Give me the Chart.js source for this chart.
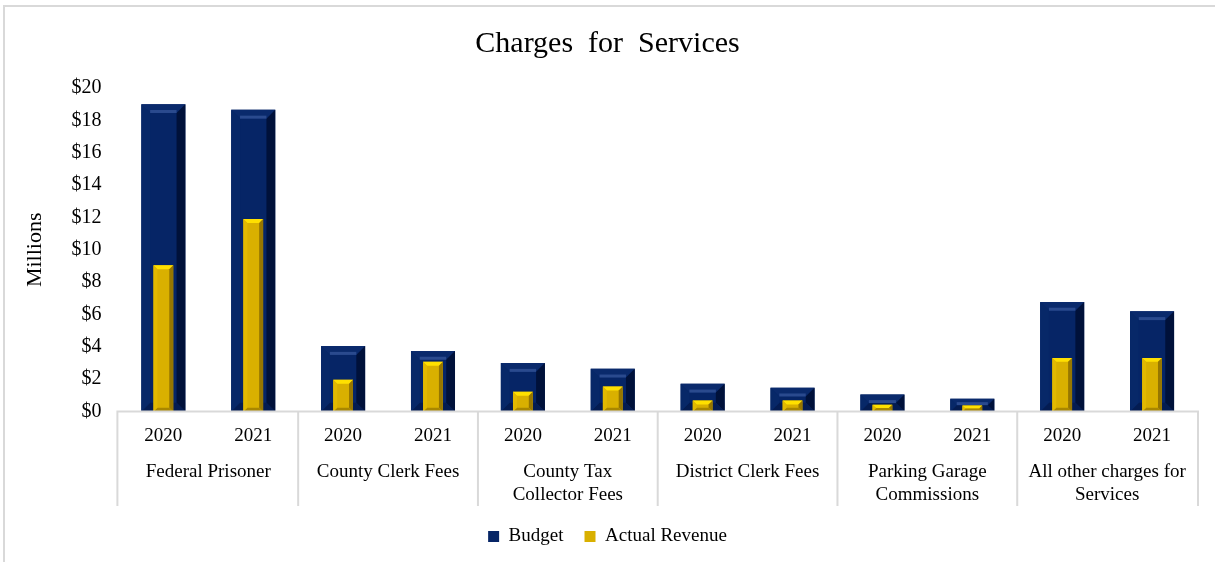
<!DOCTYPE html>
<html>
<head>
<meta charset="utf-8">
<script src="https://cdn.jsdelivr.net/npm/chart.js@4"></script>
<style>
  html, body { margin: 0; padding: 0; background: #fff; }
  #wrap { position: absolute; left: 0; top: 0; width: 1215px; height: 562px; }
  #frame { position: absolute; left: 3px; top: 5px; width: 1230px; height: 580px;
           border-left: 2px solid #d9d9d9; border-top: 2px solid #d9d9d9; }
</style>
</head>
<body>
<div id="wrap">
  <div id="frame"></div>
  <canvas id="servicesChart" width="1215" height="562"></canvas>
</div>
<script>
// --- data (millions of dollars) ---
const groups = ['Federal Prisoner', 'County Clerk Fees', ['County Tax', 'Collector Fees'], 'District Clerk Fees',
  ['Parking Garage', 'Commissions'], ['All other charges for', 'Services']];
const years = ['2020', '2021'];
const budget = [19.0, 18.65, 4.05, 3.75, 3.0, 2.65, 1.72, 1.48, 1.05, 0.8, 6.78, 6.2];
const actual = [9.05, 11.9, 1.97, 3.08, 1.23, 1.55, 0.68, 0.68, 0.43, 0.37, 3.32, 3.32];
const yTicks = [0, 2, 4, 6, 8, 10, 12, 14, 16, 18, 20];

const yearLabels = groups.flatMap(() => years);
const FONT = "'Liberation Serif', 'Times New Roman', serif";
const LINE = '#d9d9d9';

// bevelled look on each bar, using the bar elements' own geometry
const bevelPlugin = {
  id: 'bevel',
  afterDatasetDraw(chart, args) {
    const ds = chart.data.datasets[args.index];
    const c = ds.bevel;
    if (!c) return;
    const ctx = chart.ctx;
    ctx.save();
    args.meta.data.forEach(el => {
      const p = el.getProps(['x', 'y', 'base', 'width'], true);
      const l = p.x - p.width / 2, r = p.x + p.width / 2;
      const t = Math.min(p.y, p.base), btm = Math.max(p.y, p.base);
      const b = Math.min(p.width * 0.2, (btm - t) / 2);
      const poly = (pts, col) => {
        ctx.beginPath();
        ctx.moveTo(pts[0][0], pts[0][1]);
        pts.slice(1).forEach(q => ctx.lineTo(q[0], q[1]));
        ctx.closePath();
        ctx.fillStyle = col;
        ctx.fill();
      };
      poly([[l, t], [r, t], [r - b, t + b], [l + b, t + b]], c.top);
      poly([[r, t], [r, btm], [r - b, btm - b], [r - b, t + b]], c.right);
      poly([[l, btm], [r, btm], [r - b, btm - b], [l + b, btm - b]], c.bottom);
      poly([[l, t], [l + b, t + b], [l + b, btm - b], [l, btm]], c.left);
      if (c.hilite) {
        ctx.fillStyle = c.hilite;
        ctx.fillRect(l + b, t + b - 3, p.width - 2 * b, 3);
      }
    });
    ctx.restore();
  }
};

// multi-level category boxes under the plot
const boxesPlugin = {
  id: 'boxes',
  afterDraw(chart) {
    const x = chart.scales.x, x2 = chart.scales.x2;
    const ctx = chart.ctx;
    const step = x.getPixelForValue(1) - x.getPixelForValue(0);
    const top = x.top, bottom = x2.bottom;
    ctx.save();
    ctx.strokeStyle = LINE;
    ctx.lineWidth = 2;
    ctx.beginPath();
    ctx.moveTo(x.getPixelForValue(0) - step / 2 - 2, top);
    ctx.lineTo(x.getPixelForValue(yearLabels.length - 1) + step / 2 + 2, top);
    for (let g = 0; g <= groups.length; g++) {
      const px = x.getPixelForValue(g * years.length) - step / 2 + (g === 0 ? -1 : g === groups.length ? 1 : 0);
      ctx.moveTo(px, top);
      ctx.lineTo(px, bottom);
    }
    ctx.stroke();
    ctx.restore();
  }
};

new Chart(document.getElementById('servicesChart'), {
  type: 'bar',
  data: {
    labels: yearLabels,
    datasets: [{
      label: 'Budget',
      data: budget,
      order: 2,
      grouped: false,
      backgroundColor: '#062566',
      categoryPercentage: 1,
      barPercentage: 0.49,
      bevel: { top: '#0a2a6c', right: '#00113a', bottom: '#041c52', left: '#072868', hilite: '#2a4a8e' }
    }, {
      label: 'Actual Revenue',
      data: actual,
      order: 1,
      grouped: false,
      backgroundColor: '#d9b000',
      categoryPercentage: 1,
      barPercentage: 0.22,
      bevel: { top: '#ffe000', right: '#967600', bottom: '#a88600', left: '#e2b900' }
    }]
  },
  options: {
    responsive: false,
    animation: false,
    layout: { padding: { left: 18, right: 18, top: 16, bottom: 6 } },
    plugins: {
      title: {
        display: true,
        text: 'Charges  for  Services',
        color: '#000',
        font: { family: FONT, size: 30, weight: 'normal' },
        padding: { top: 10, bottom: 26 }
      },
      legend: {
        position: 'bottom',
        labels: {
          color: '#000',
          font: { family: FONT, size: 19 },
          boxWidth: 11,
          boxHeight: 11,
          padding: 21,
          sort: (a, b) => a.datasetIndex - b.datasetIndex
        }
      },
      tooltip: { enabled: false }
    },
    scales: {
      x: {
        grid: { display: false, drawTicks: false },
        border: { display: false },
        ticks: { color: '#000', font: { family: FONT, size: 19 }, padding: 13, maxRotation: 0, autoSkip: false }
      },
      x2: {
        type: 'category',
        position: 'bottom',
        labels: groups,
        offset: true,
        grid: { display: false, drawTicks: false },
        border: { display: false },
        ticks: { color: '#000', font: { family: FONT, size: 19, lineHeight: 1.2 }, padding: 0, maxRotation: 0, autoSkip: false }
      },
      y: {
        min: 0,
        max: 20,
        afterBuildTicks: (s) => { s.ticks = yTicks.map(v => ({ value: v })); },
        grid: { display: false, drawTicks: false },
        border: { display: false },
        ticks: {
          color: '#000',
          font: { family: FONT, size: 20 },
          padding: 17,
          callback: (v) => '$' + v
        },
        title: {
          display: true,
          text: 'Millions',
          color: '#000',
          font: { family: FONT, size: 22 },
          padding: { bottom: 6 }
        }
      }
    }
  },
  plugins: [bevelPlugin, boxesPlugin]
});
</script>
</body>
</html>
